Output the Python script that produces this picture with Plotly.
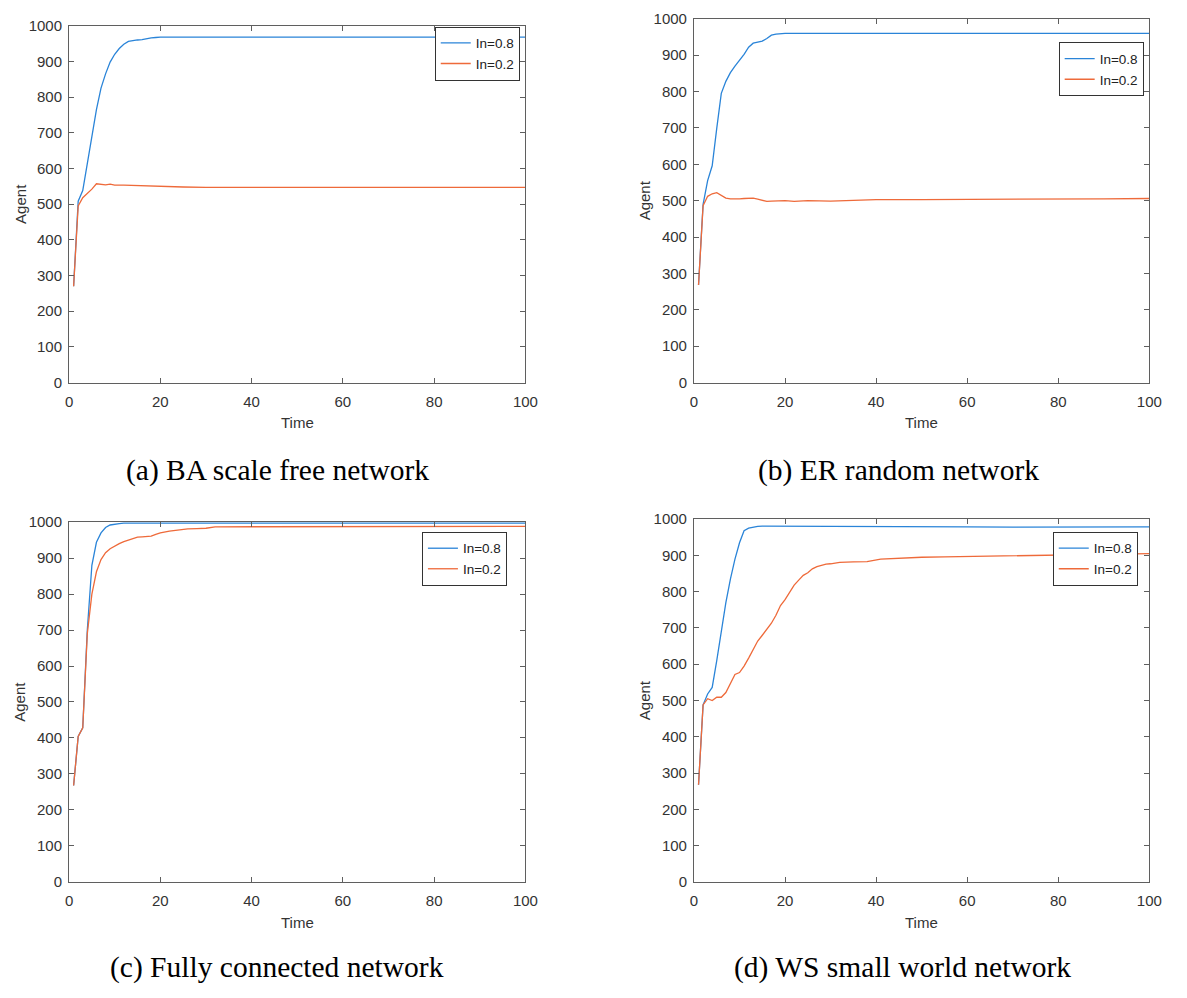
import plotly.graph_objects as go

W, H = 1187, 998

# ---------------- data ----------------
# (a) BA scale free network
a_hi_t = [1, 2, 3, 4, 5, 6, 7, 8, 9, 10, 11, 12, 13, 14, 15, 16, 17, 18, 19, 20, 30, 40, 50, 60, 70, 80, 90, 100]
a_hi_v = [270, 508, 538, 610, 690, 765, 825, 865, 898, 920, 936, 948, 956, 959, 960, 961, 964, 966, 967, 968,
          968, 968, 968, 968, 968, 968, 968, 968]
a_lo_t = [1, 2, 3, 4, 5, 6, 7, 8, 9, 10, 12, 14, 16, 18, 20, 25, 30, 40, 50, 60, 70, 80, 90, 100]
a_lo_v = [270, 495, 518, 530, 542, 557, 555, 554, 556, 553, 553, 552, 551, 550, 549, 548, 547, 547, 547, 547,
          547, 547, 547, 547]

# (b) ER random network
b_hi_t = [1, 2, 3, 4, 5, 6, 7, 8, 9, 10, 11, 12, 13, 14, 15, 16, 17, 18, 19, 20, 30, 40, 50, 60, 70, 80, 90, 100]
b_hi_v = [268, 490, 555, 596, 699, 795, 828, 852, 870, 886, 902, 922, 933, 936, 939, 946, 955, 958, 959, 960,
          960, 960, 960, 960, 960, 960, 960, 960]
b_lo_t = [1, 2, 3, 4, 5, 6, 7, 8, 9, 10, 11, 12, 13, 14, 15, 16, 17, 18, 19, 20, 22, 25, 30, 35, 40, 50, 60,
          70, 80, 90, 100]
b_lo_v = [268, 486, 512, 519, 522, 514, 507, 505, 504, 505, 506, 507, 507, 504, 500, 498, 499, 500, 501, 500,
          498, 500, 499, 501, 503, 503, 503, 504, 504, 505, 506]

# (c) Fully connected network
c_hi_t = [1, 2, 3, 4, 5, 6, 7, 8, 9, 10, 11, 12, 20, 30, 40, 50, 60, 70, 80, 90, 100]
c_hi_v = [268, 404, 428, 700, 880, 944, 970, 985, 992, 995, 996, 997, 997, 997, 997, 997, 997, 997, 997, 997, 997]
c_lo_t = [1, 2, 3, 4, 5, 6, 7, 8, 9, 10, 11, 12, 13, 14, 15, 16, 17, 18, 19, 20, 22, 24, 26, 28, 30, 32, 40,
          50, 60, 70, 80, 90, 100]
c_lo_v = [268, 404, 428, 690, 800, 862, 896, 915, 926, 934, 940, 946, 950, 954, 958, 959, 960, 961, 966, 970,
          975, 979, 981, 982, 983, 987, 987, 988, 988, 988, 988, 988, 988]

# (d) WS small world network
d_hi_t = [1, 2, 3, 4, 5, 6, 7, 8, 9, 10, 11, 12, 13, 14, 15, 20, 30, 40, 45, 60, 70, 80, 90, 100]
d_hi_v = [268, 488, 518, 536, 610, 690, 770, 835, 890, 935, 968, 975, 978, 980, 981, 981, 981, 981, 979, 979,
          978, 979, 979, 979]
d_lo_t = [1, 2, 3, 4, 5, 6, 7, 8, 9, 10, 11, 12, 13, 14, 15, 16, 17, 18, 19, 20, 21, 22, 23, 24, 25, 26, 27,
          28, 29, 30, 32, 35, 38, 41, 45, 50, 55, 60, 65, 70, 75, 80, 85, 90, 95, 100]
d_lo_v = [268, 488, 505, 500, 509, 509, 522, 548, 572, 577, 595, 617, 642, 664, 680, 697, 713, 735, 762, 778,
          798, 818, 832, 845, 852, 863, 869, 873, 876, 877, 881, 882, 883, 890, 893, 895, 896, 897, 898, 898,
          899, 901, 902, 903, 904, 905]

series_names = ["In=0.8", "In=0.2"]
x_ticks = [0, 20, 40, 60, 80, 100]
y_ticks = [0, 100, 200, 300, 400, 500, 600, 700, 800, 900, 1000]
captions = ["(a) BA scale free network", "(b) ER random network",
            "(c) Fully connected network", "(d) WS small world network"]

# ---------------- layout geometry (pixels) ----------------
panels = [
    dict(l=66, r=529, t=17, b=380, lg=(437, 18), cap=(277, 470)),
    dict(l=700, r=1162, t=10, b=380, lg=(1070, 34), cap=(908, 470)),
    dict(l=66, r=529, t=522, b=888, lg=(424, 532), cap=(277, 975)),
    dict(l=700, r=1162, t=519, b=888, lg=(1064, 532), cap=(912, 975)),
]
data = [
    (a_hi_t, a_hi_v, a_lo_t, a_lo_v),
    (b_hi_t, b_hi_v, b_lo_t, b_lo_v),
    (c_hi_t, c_hi_v, c_lo_t, c_lo_v),
    (d_hi_t, d_hi_v, d_lo_t, d_lo_v),
]

BLUE = "#2a84d8"
RED = "#ee6a3a"
AX = "#5f5f5f"
TXT = "#333333"
SANS = "Liberation Sans, Arial, sans-serif"
SERIF = "Liberation Serif, Times New Roman, serif"

fig = go.Figure()
annotations = []
layout = {}

def px_x(p):
    return p / W

def px_y(p):
    return 1 - p / H

for i, (p, d) in enumerate(zip(panels, data)):
    n = i + 1
    xa = "x" if n == 1 else f"x{n}"
    ya = "y" if n == 1 else f"y{n}"
    lg = "legend" if n == 1 else f"legend{n}"
    ht, hv, lt, lv = d
    fig.add_trace(go.Scatter(x=ht, y=hv, mode="lines", name=series_names[0],
                             line=dict(color=BLUE, width=1.3), xaxis=xa, yaxis=ya, legend=lg))
    fig.add_trace(go.Scatter(x=lt, y=lv, mode="lines", name=series_names[1],
                             line=dict(color=RED, width=1.3), xaxis=xa, yaxis=ya, legend=lg))
    axis_common = dict(showline=True, linecolor=AX, linewidth=1, mirror="ticks", ticks="inside",
                       ticklen=5, tickcolor=AX, tickwidth=1, showgrid=False, zeroline=False,
                       tickfont=dict(family=SANS, size=15, color=TXT))
    layout["xaxis" if n == 1 else f"xaxis{n}"] = dict(
        domain=[px_x(p["l"]), px_x(p["r"])], range=[0, 100], tickvals=x_ticks,
        anchor=ya, ticklabelstandoff=5, **axis_common)
    layout["yaxis" if n == 1 else f"yaxis{n}"] = dict(
        domain=[px_y(p["b"]), px_y(p["t"])], range=[0, 1000], tickvals=y_ticks,
        anchor=xa, ticklabelstandoff=3, **axis_common)
    layout[lg] = dict(x=px_x(p["lg"][0]), y=px_y(p["lg"][1]), xanchor="left", yanchor="top",
                      bgcolor="white", bordercolor="#333333", borderwidth=1,
                      font=dict(family=SANS, size=13.5, color="#222222"),
                      tracegroupgap=0, itemwidth=30)
    annotations.append(dict(text="Time", x=px_x((p["l"] + p["r"]) / 2), y=px_y(p["b"] + 41),
                            xref="paper", yref="paper", showarrow=False, xanchor="center", yanchor="middle",
                            font=dict(family=SANS, size=15, color=TXT)))
    annotations.append(dict(text="Agent", x=px_x(p["l"] - 50), y=px_y((p["t"] + p["b"]) / 2),
                            xref="paper", yref="paper", showarrow=False, textangle=-90,
                            xanchor="center", yanchor="middle",
                            font=dict(family=SANS, size=15, color=TXT)))
    annotations.append(dict(text=captions[i], x=px_x(p["cap"][0]), y=px_y(p["cap"][1]),
                            xref="paper", yref="paper", showarrow=False, xanchor="center", yanchor="middle",
                            font=dict(family=SERIF, size=29.5, color="black")))

fig.update_layout(
    width=W, height=H, margin=dict(l=0, r=0, t=0, b=0),
    paper_bgcolor="white", plot_bgcolor="white",
    showlegend=True, annotations=annotations, **layout,
)

fig.write_html("out.html")
